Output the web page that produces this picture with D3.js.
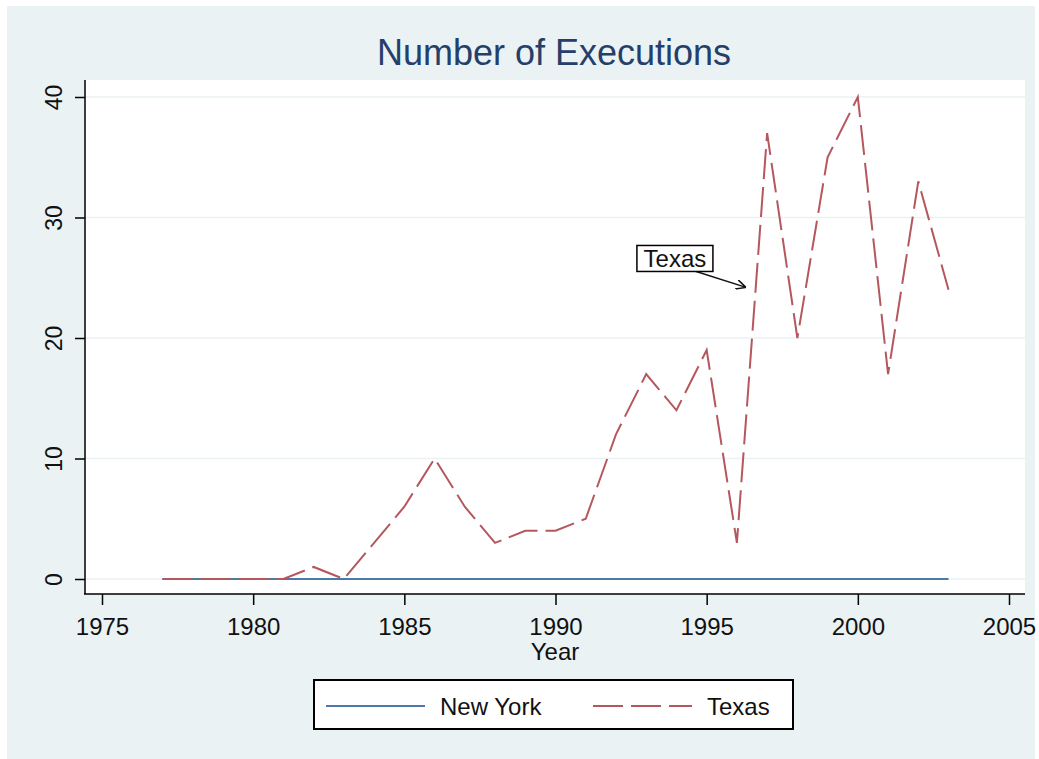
<!DOCTYPE html>
<html>
<head>
<meta charset="utf-8">
<script src="https://cdnjs.cloudflare.com/ajax/libs/d3/7.8.5/d3.min.js"></script>
<style>
  body { margin: 0; background: #fff; }
  text { font-family: "Liberation Sans", Arial, sans-serif; }
</style>
</head>
<body>
<div id="chart"></div>
<script>
var width = 1039,
    height = 759;

// data
var years = [1977, 1978, 1979, 1980, 1981, 1982, 1983, 1984, 1985, 1986, 1987, 1988, 1989, 1990,
             1991, 1992, 1993, 1994, 1995, 1996, 1997, 1998, 1999, 2000, 2001, 2002, 2003];
var newYork = [0, 0, 0, 0, 0, 0, 0, 0, 0, 0, 0, 0, 0, 0,
               0, 0, 0, 0, 0, 0, 0, 0, 0, 0, 0, 0, 0];
var texas = [0, 0, 0, 0, 0, 1, 0, 3, 6, 10, 6, 3, 4, 4,
             5, 12, 17, 14, 19, 3, 37, 20, 35, 40, 17, 33, 24];
var xTicks = [1975, 1980, 1985, 1990, 1995, 2000, 2005];
var yTicks = [0, 10, 20, 30, 40];
var seriesNames = ["New York", "Texas"];

// annotation (data coords)
var noteLabel = "Texas";
var notePos = [1993.95, 26.6];
var noteArrow = [[1994.55, 25.6], [1996.3, 24.2]];

var nyColor = "#4a7aa5",
    txColor = "#b5575e",
    bgColor = "#eaf2f3";

var svg = d3.select("#chart")
  .append("svg")
  .attr("width", width)
  .attr("height", height);

svg.append("rect")
  .attr("x", 7).attr("y", 6)
  .attr("width", 1028).attr("height", 753)
  .attr("fill", bgColor);

// plot region
svg.append("rect")
  .attr("x", 85).attr("y", 80)
  .attr("width", 940).attr("height", 514)
  .attr("fill", "#fff");

var x = d3.scaleLinear().domain([1975, 2005]).range([102, 1009]);
var y = d3.scaleLinear().domain([0, 40]).range([579, 97]);

// gridlines
svg.append("g")
  .selectAll("line")
  .data(yTicks)
  .enter()
  .append("line")
  .attr("x1", 85).attr("x2", 1025)
  .attr("y1", function(d) { return y(d); })
  .attr("y2", function(d) { return y(d); })
  .attr("stroke", bgColor)
  .attr("stroke-width", 1.5);

// y axis
var yAxis = svg.append("g")
  .attr("transform", "translate(85,0)")
  .call(d3.axisLeft(y).tickValues(yTicks).tickSize(10).tickSizeOuter(0).tickFormat(d3.format("d")));
yAxis.select(".domain").remove();
yAxis.append("line")
  .attr("x1", 0).attr("x2", 0).attr("y1", 80).attr("y2", 594)
  .attr("stroke", "#000").attr("stroke-width", 1.5);
yAxis.selectAll(".tick line").attr("stroke", "#000").attr("stroke-width", 1.5);
yAxis.selectAll(".tick text")
  .attr("x", 0).attr("y", 0).attr("dy", null)
  .attr("transform", "translate(-23,0) rotate(-90)")
  .attr("text-anchor", "middle")
  .attr("font-size", "23px")
  .attr("fill", "#111");

// x axis
var xAxis = svg.append("g")
  .attr("transform", "translate(0,594)")
  .call(d3.axisBottom(x).tickValues(xTicks).tickSize(11).tickSizeOuter(0).tickFormat(d3.format("d")));
xAxis.select(".domain").remove();
xAxis.append("line")
  .attr("x1", 84).attr("x2", 1025).attr("y1", 0).attr("y2", 0)
  .attr("stroke", "#000").attr("stroke-width", 1.5);
xAxis.selectAll(".tick line").attr("stroke", "#000").attr("stroke-width", 1.5);
xAxis.selectAll(".tick text")
  .attr("y", 41).attr("dy", null)
  .attr("font-size", "24px")
  .attr("fill", "#111");

svg.append("text")
  .attr("x", 555).attr("y", 660)
  .attr("text-anchor", "middle")
  .attr("font-size", "24px")
  .attr("fill", "#111")
  .text("Year");

// title
svg.append("text")
  .attr("x", 554).attr("y", 65)
  .attr("text-anchor", "middle")
  .attr("font-size", "36px")
  .attr("fill", "#253f6a")
  .text("Number of Executions");

// lines
var line = d3.line()
  .x(function(d) { return x(d[0]); })
  .y(function(d) { return y(d[1]); });

svg.append("path")
  .datum(d3.zip(years, newYork))
  .attr("d", line)
  .attr("fill", "none")
  .attr("stroke", nyColor)
  .attr("stroke-width", 2);

svg.append("path")
  .datum(d3.zip(years, texas))
  .attr("d", line)
  .attr("fill", "none")
  .attr("stroke", txColor)
  .attr("stroke-width", 2)
  .attr("stroke-dasharray", "30,8");

// annotation
var defs = svg.append("defs");
defs.append("marker")
  .attr("id", "arrow")
  .attr("viewBox", "0 0 10 10")
  .attr("refX", 10).attr("refY", 5)
  .attr("markerWidth", 10).attr("markerHeight", 10)
  .attr("markerUnits", "userSpaceOnUse")
  .attr("orient", "auto")
  .append("path")
  .attr("d", "M0,0 L10,5 L0,10")
  .attr("fill", "none")
  .attr("stroke", "#111")
  .attr("stroke-width", 1.5);

svg.append("line")
  .attr("x1", x(noteArrow[0][0])).attr("y1", y(noteArrow[0][1]))
  .attr("x2", x(noteArrow[1][0])).attr("y2", y(noteArrow[1][1]))
  .attr("stroke", "#111")
  .attr("stroke-width", 1.5)
  .attr("marker-end", "url(#arrow)");

var note = svg.append("g")
  .attr("transform", "translate(" + x(notePos[0]) + "," + y(notePos[1]) + ")");
note.append("rect")
  .attr("x", -38).attr("y", -13)
  .attr("width", 76).attr("height", 26)
  .attr("fill", "#fff")
  .attr("stroke", "#000")
  .attr("stroke-width", 1.5);
note.append("text")
  .attr("y", 9)
  .attr("text-anchor", "middle")
  .attr("font-size", "24px")
  .attr("fill", "#111")
  .text(noteLabel);

// legend
var legend = svg.append("g");
legend.append("rect")
  .attr("x", 314).attr("y", 680)
  .attr("width", 479).attr("height", 49)
  .attr("fill", "#fff")
  .attr("stroke", "#000")
  .attr("stroke-width", 2);

var legX = [326, 593];
legend.selectAll("line.key")
  .data(seriesNames)
  .enter()
  .append("line")
  .attr("class", "key")
  .attr("x1", function(d, i) { return legX[i]; })
  .attr("x2", function(d, i) { return legX[i] + 99; })
  .attr("y1", 706).attr("y2", 706)
  .attr("stroke", function(d, i) { return i == 0 ? nyColor : txColor; })
  .attr("stroke-width", 2)
  .attr("stroke-dasharray", function(d, i) { return i == 0 ? null : "30,8"; });

legend.selectAll("text")
  .data(seriesNames)
  .enter()
  .append("text")
  .attr("x", function(d, i) { return legX[i] + 114; })
  .attr("y", 715)
  .attr("font-size", "24px")
  .attr("fill", "#111")
  .text(function(d) { return d; });
</script>
</body>
</html>
